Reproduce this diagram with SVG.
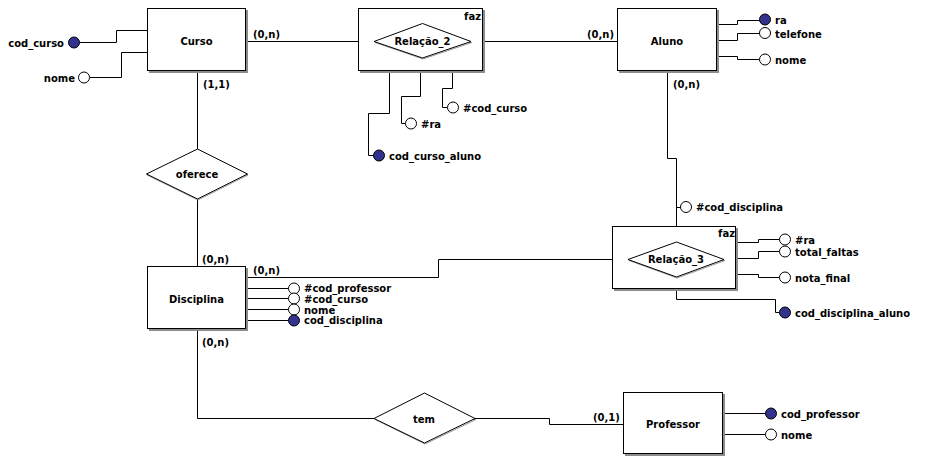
<svg xmlns="http://www.w3.org/2000/svg" width="950" height="467" viewBox="0 0 950 467">
  <defs>
    <style>
      text { font-family: "DejaVu Sans", Verdana, sans-serif; font-weight: bold; font-size: 10px; fill: #000; }
      .c { text-anchor: middle; }
      .e { text-anchor: end; }
      .box { fill: #fff; stroke: #000; stroke-width: 1; }
      .shadow { fill: #8c8c8c; stroke: none; }
      .dshadow { fill: none; stroke: #9a9a9a; stroke-width: 1; }
      .diamond { fill: #fff; stroke: #000; stroke-width: 1; }
      .ln { fill: none; stroke: #000; stroke-width: 1; }
      .att { fill: #fff; stroke: #000; stroke-width: 1; }
      .key { fill: #33338f; stroke: #000; stroke-width: 1; }
    </style>
  </defs>
  <rect width="950" height="467" fill="#fff"/>

  <!-- relationship lines between entities -->
  <g id="connectors">
    <path class="ln" d="M248 41.5 H374"/>
    <path class="ln" d="M471 41.5 H617"/>
    <path class="ln" d="M197.5 73 V149"/>
    <path class="ln" d="M197.5 199 V266"/>
    <path class="ln" d="M248 277.5 H438.5 V259.5 H628"/>
    <path class="ln" d="M667.5 73 V158.5 H676.5 V242"/>
    <path class="ln" d="M197.5 331 V418.5 H374"/>
    <path class="ln" d="M475 418.5 H549.5 V424.5 H623"/>
    <text x="253" y="38">(0,n)</text>
    <text x="203" y="88">(1,1)</text>
    <text x="587" y="38">(0,n)</text>
    <text x="673" y="88">(0,n)</text>
    <text x="202" y="263">(0,n)</text>
    <text x="253" y="274">(0,n)</text>
    <text x="202" y="346">(0,n)</text>
    <text x="593" y="421">(0,1)</text>
  </g>

  <!-- Curso -->
  <g id="curso">
    <rect class="shadow" x="149" y="10" width="99" height="63"/>
    <rect class="box" x="147.5" y="8.5" width="98" height="62"/>
    <text class="c" x="196.5" y="45">Curso</text>
    <path class="ln" d="M147 30.5 H116.5 V42.5 H79.5"/>
    <circle class="key" cx="74" cy="42.5" r="5.5"/>
    <text class="e" x="64" y="46.5">cod_curso</text>
    <path class="ln" d="M147 52.5 H121.5 V77.5 H89.5"/>
    <circle class="att" cx="84" cy="77.5" r="5.5"/>
    <text class="e" x="75" y="81.5">nome</text>
  </g>

  <!-- Relação_2 (faz) -->
  <g id="relacao2">
    <rect class="shadow" x="360" y="10" width="125" height="63"/>
    <rect class="box" x="358.5" y="8.5" width="124" height="62"/>
    <text class="e" x="481" y="20">faz</text>
    <polygon class="dshadow" points="472,42.5 423,59 375,42.5"/>
    <polygon class="diamond" points="374,41.5 422.5,23.5 471,41.5 422.5,58"/>
    <text class="c" x="422.5" y="45">Relação_2</text>
    <path class="ln" d="M389.5 73 V113.5 H368.5 V155.5 H373.5"/>
    <circle class="key" cx="379" cy="155.5" r="5.5"/>
    <text x="389" y="159.5">cod_curso_aluno</text>
    <path class="ln" d="M420.5 73 V96.5 H401.5 V123.5 H405.5"/>
    <circle class="att" cx="411" cy="123.5" r="5.5"/>
    <text x="421" y="127.5">#ra</text>
    <path class="ln" d="M452.5 73 V88.5 H442.5 V107.5 H447.5"/>
    <circle class="att" cx="453" cy="107.5" r="5.5"/>
    <text x="463" y="111.5">#cod_curso</text>
  </g>

  <!-- Aluno -->
  <g id="aluno">
    <rect class="shadow" x="619" y="10" width="100" height="63"/>
    <rect class="box" x="617.5" y="8.5" width="99" height="62"/>
    <text class="c" x="667" y="45">Aluno</text>
    <path class="ln" d="M719 24.5 H737.5 V20.5 H759.5"/>
    <path class="ln" d="M719 40.5 H737.5 V33.5 H759.5"/>
    <path class="ln" d="M719 56.5 H737.5 V59.5 H759.5"/>
    <circle class="att" cx="765" cy="33" r="5.5"/>
    <circle class="key" cx="765" cy="19.5" r="5.5"/>
    <circle class="att" cx="765" cy="59.5" r="5.5"/>
    <text x="775" y="24">ra</text>
    <text x="775" y="37.5">telefone</text>
    <text x="775" y="63.5">nome</text>
  </g>

  <!-- oferece -->
  <g id="oferece">
    <polygon class="dshadow" points="248,175 198,200 147,175"/>
    <polygon class="diamond" points="146.5,174 197.5,149 247.5,174 197.5,199"/>
    <text class="c" x="197" y="178">oferece</text>
  </g>

  <!-- Relação_3 (faz) -->
  <g id="relacao3">
    <rect class="shadow" x="614" y="228" width="124" height="63"/>
    <rect class="box" x="612.5" y="226.5" width="123" height="62"/>
    <text class="e" x="735" y="237">faz</text>
    <polygon class="dshadow" points="725,260.5 677,278 629,260.5"/>
    <polygon class="diamond" points="628,259.5 676.5,242 724,259.5 676.5,277"/>
    <text class="c" x="676" y="263">Relação_3</text>
    <path class="ln" d="M676.5 207.5 H680.5"/>
    <circle class="att" cx="686" cy="207" r="5.5"/>
    <text x="696" y="211">#cod_disciplina</text>
    <path class="ln" d="M738 242.5 H758.5 V239.5 H779.5"/>
    <path class="ln" d="M738 258.5 H758.5 V251.5 H779.5"/>
    <path class="ln" d="M738 274.5 H758.5 V277.5 H779.5"/>
    <circle class="att" cx="785" cy="239.5" r="5.5"/>
    <circle class="att" cx="785" cy="251.5" r="5.5"/>
    <circle class="att" cx="785" cy="277.5" r="5.5"/>
    <text x="795" y="243.5">#ra</text>
    <text x="795" y="255.5">total_faltas</text>
    <text x="795" y="281.5">nota_final</text>
    <path class="ln" d="M676.5 291 V299.5 H775.5 V312.5 H779.5"/>
    <circle class="key" cx="785" cy="312.5" r="5.5"/>
    <text x="795" y="316.5">cod_disciplina_aluno</text>
  </g>

  <!-- Disciplina -->
  <g id="disciplina">
    <rect class="shadow" x="149" y="268" width="99" height="63"/>
    <rect class="box" x="147.5" y="266.5" width="98" height="62"/>
    <text class="c" x="196.5" y="303">Disciplina</text>
    <path class="ln" d="M248 288.5 H288.5"/>
    <path class="ln" d="M248 298.5 H288.5"/>
    <path class="ln" d="M248 309.5 H288.5"/>
    <path class="ln" d="M248 320.5 H288.5"/>
    <circle class="att" cx="294" cy="288.5" r="5.5"/>
    <circle class="att" cx="294" cy="298.5" r="5.5"/>
    <circle class="att" cx="294" cy="309.5" r="5.5"/>
    <circle class="key" cx="294" cy="320.5" r="5.5"/>
    <text x="304" y="292">#cod_professor</text>
    <text x="304" y="302.5">#cod_curso</text>
    <text x="304" y="313.5">nome</text>
    <text x="304" y="324">cod_disciplina</text>
  </g>

  <!-- tem -->
  <g id="tem">
    <polygon class="dshadow" points="476,419.5 425,444 375,419.5"/>
    <polygon class="diamond" points="374,418.5 424.5,393 475,418.5 424.5,443"/>
    <text class="c" x="424" y="423">tem</text>
  </g>

  <!-- Professor -->
  <g id="professor">
    <rect class="shadow" x="625" y="394" width="100" height="62"/>
    <rect class="box" x="623.5" y="392.5" width="99" height="61"/>
    <text class="c" x="673" y="428">Professor</text>
    <path class="ln" d="M725 413.5 H765.5"/>
    <path class="ln" d="M725 434.5 H765.5"/>
    <circle class="key" cx="771" cy="413.5" r="5.5"/>
    <circle class="att" cx="771" cy="434.5" r="5.5"/>
    <text x="781" y="417.5">cod_professor</text>
    <text x="781" y="438.5">nome</text>
  </g>
</svg>
